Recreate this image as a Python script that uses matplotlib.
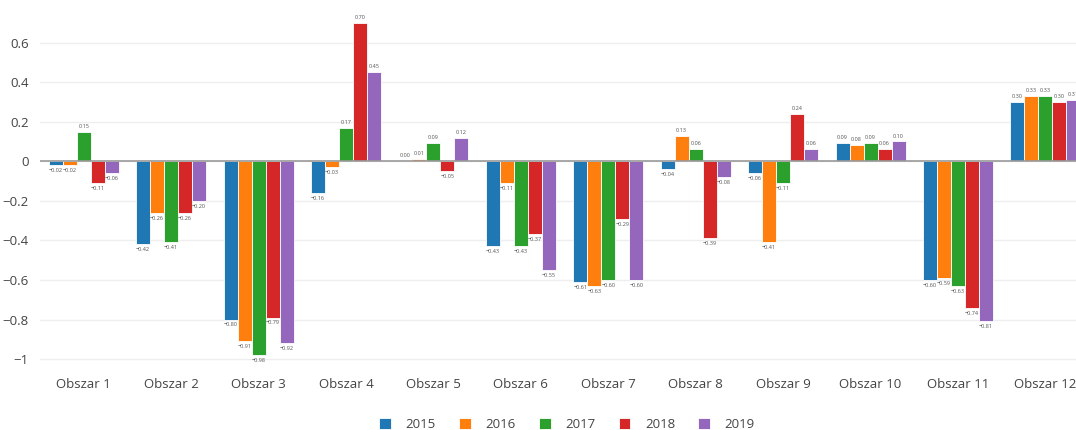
import numpy as np
import matplotlib.pyplot as plt
from matplotlib.ticker import FuncFormatter

plt.rcParams['font.family'] = ['Open Sans', 'DejaVu Sans']

obszary = ["Obszar %d" % i for i in range(1, 13)]
lata = ["2015", "2016", "2017", "2018", "2019"]
kolory = ["#1f77b4", "#ff7f0e", "#2ca02c", "#d62728", "#9467bd"]

v2015 = [-0.02, -0.42, -0.80, -0.16, 0.00, -0.43, -0.61, -0.04, -0.06, 0.09, -0.60, 0.30]
v2016 = [-0.02, -0.26, -0.91, -0.03, 0.01, -0.11, -0.63, 0.13, -0.41, 0.08, -0.59, 0.33]
v2017 = [0.15, -0.41, -0.98, 0.17, 0.09, -0.43, -0.60, 0.06, -0.11, 0.09, -0.63, 0.33]
v2018 = [-0.11, -0.26, -0.79, 0.70, -0.05, -0.37, -0.29, -0.39, 0.24, 0.06, -0.74, 0.30]
v2019 = [-0.06, -0.20, -0.92, 0.45, 0.12, -0.55, -0.60, -0.08, 0.06, 0.10, -0.81, 0.31]
serie = [v2015, v2016, v2017, v2018, v2019]

fig = plt.figure(figsize=(10.76, 4.3), dpi=100)
ax = fig.add_axes([40 / 1076, 65 / 430, 1036 / 1076, 362 / 430])

x = np.arange(len(obszary))
w = 0.16
for k, (rok, vals, c) in enumerate(zip(lata, serie, kolory)):
    pos = x + (k - 2) * w
    ax.bar(pos, vals, width=w, color=c, edgecolor="white", linewidth=0.6,
           label=rok, zorder=3)
    for xi, v in zip(pos, vals):
        txt = ("%.2f" % v).replace("-", "\u2212")
        if v >= 0:
            ax.text(xi, v + 0.015, txt, ha="center", va="bottom", fontsize=4, color="#555")
        else:
            ax.text(xi, v - 0.015, txt, ha="center", va="top", fontsize=4, color="#555")

ax.set_xlim(-0.5, 11.35)
ax.set_ylim(-1.03, 0.8)
ax.set_yticks([-1, -0.8, -0.6, -0.4, -0.2, 0, 0.2, 0.4, 0.6])


def fmt(v, p):
    if abs(v) < 1e-9:
        return "0"
    if abs(v - round(v)) < 1e-9:
        s = "%d" % round(v)
    else:
        s = "%.1f" % v
    return s.replace("-", "\u2212")


ax.yaxis.set_major_formatter(FuncFormatter(fmt))
ax.set_xticks(x)
ax.set_xticklabels(obszary)
ax.grid(axis="y", color="#eeeeee", linewidth=1, zorder=0)
ax.axhline(0, color="#999999", linewidth=1.2, zorder=4)
for s in ax.spines.values():
    s.set_visible(False)
ax.tick_params(axis="both", length=0, labelsize=9.5, colors="#444444", pad=8)
ax.tick_params(axis="x", pad=9)

fig.legend(loc="center", bbox_to_anchor=(0.527, 0.012), ncol=5, frameon=False,
           fontsize=9.5, handlelength=0.9, handleheight=0.9, columnspacing=1.75,
           handletextpad=1.1, labelcolor="#444444", borderpad=0)

fig.savefig("out.png", dpi=100)
